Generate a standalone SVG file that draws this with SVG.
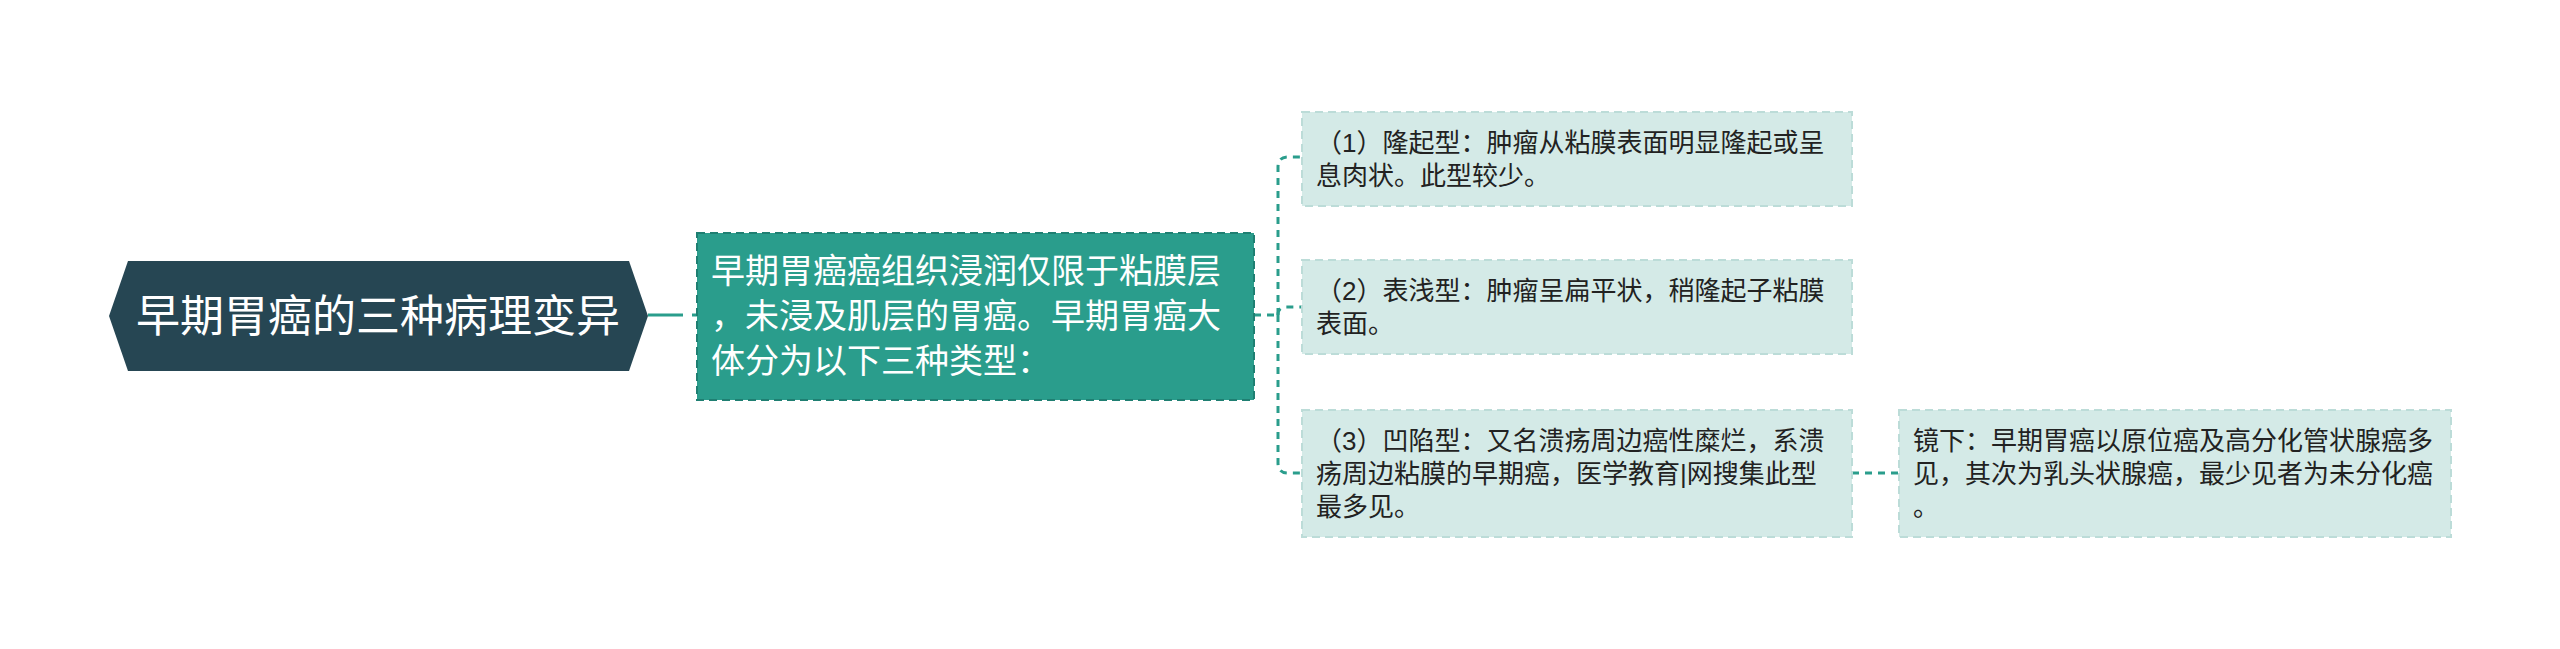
<svg xmlns="http://www.w3.org/2000/svg" width="2560" height="649" viewBox="0 0 2560 649">
<style>
.t{font-family:"Liberation Sans","Noto Sans CJK SC",sans-serif;}
.root{fill:#264653;}
.rt{fill:#ffffff;font-size:44px;}
.n2{fill:#2a9d8c;stroke:#1f7f72;stroke-width:2;stroke-dasharray:8 5;}
.n2t{fill:#ffffff;font-size:34px;}
.c{fill:#d4eae7;stroke:#bcdcd8;stroke-width:2;stroke-dasharray:8 5;}
.ct{fill:#222222;font-size:26px;}
.ln{fill:none;stroke:#2a9d8c;stroke-width:3;stroke-dasharray:7 6;}
</style>
<rect width="2560" height="649" fill="#ffffff"/>
<g id="connectors">
<path d="M648,315 H697" fill="none" stroke="#2a9d8c" stroke-width="3" stroke-dasharray="35 9"/>
<path class="ln" d="M1254,315 H1278"/>
<path class="ln" d="M1278,315 V167 Q1278,157 1288,157 H1302"/>
<path class="ln" d="M1278,315 V315 Q1278,307 1286,307 H1302"/>
<path class="ln" d="M1278,315 V463 Q1278,473 1288,473 H1302"/>
<path class="ln" d="M1852,473 H1899"/>
</g>
<g id="root">
<polygon class="root" points="109,316 128,261 629,261 648,316 629,371 128,371"/>
<text class="t rt" x="378" y="332" text-anchor="middle">早期胃癌的三种病理变异</text>
</g>
<g id="node2">
<rect class="n2" x="697" y="233" width="557" height="167"/>
<text class="t n2t"><tspan x="711" y="283">早期胃癌癌组织浸润仅限于粘膜层</tspan><tspan x="711" y="328">，未浸及肌层的胃癌。早期胃癌大</tspan><tspan x="711" y="373">体分为以下三种类型：</tspan></text>
</g>
<g id="c1">
<rect class="c" x="1302" y="112" width="550" height="94"/>
<text class="t ct"><tspan x="1316" y="152">（1）隆起型：肿瘤从粘膜表面明显隆起或呈</tspan><tspan x="1316" y="185">息肉状。此型较少。</tspan></text>
</g>
<g id="c2">
<rect class="c" x="1302" y="260" width="550" height="94"/>
<text class="t ct"><tspan x="1316" y="300">（2）表浅型：肿瘤呈扁平状，稍隆起子粘膜</tspan><tspan x="1316" y="333">表面。</tspan></text>
</g>
<g id="c3">
<rect class="c" x="1302" y="410" width="550" height="127"/>
<text class="t ct"><tspan x="1316" y="450">（3）凹陷型：又名溃疡周边癌性糜烂，系溃</tspan><tspan x="1316" y="483">疡周边粘膜的早期癌，医学教育|网搜集此型</tspan><tspan x="1316" y="516">最多见。</tspan></text>
</g>
<g id="c4">
<rect class="c" x="1899" y="410" width="552" height="127"/>
<text class="t ct"><tspan x="1913" y="450">镜下：早期胃癌以原位癌及高分化管状腺癌多</tspan><tspan x="1913" y="483">见，其次为乳头状腺癌，最少见者为未分化癌</tspan><tspan x="1913" y="516">。</tspan></text>
</g>
</svg>
